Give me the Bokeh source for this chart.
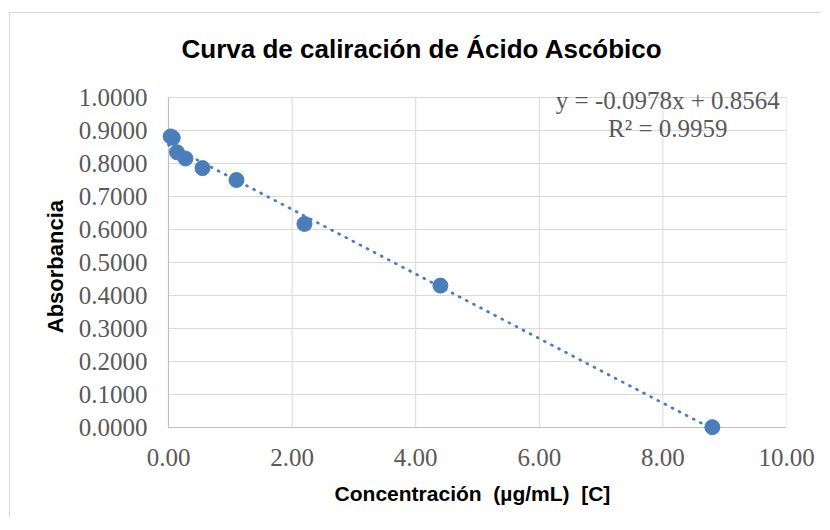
from bokeh.plotting import figure
from bokeh.models import Label, FixedTicker, NumeralTickFormatter, Range1d
from bokeh.embed import file_html
from bokeh.resources import INLINE

# ---- data ----
conc = [0.034375, 0.06875, 0.1375, 0.275, 0.55, 1.1, 2.2, 4.4, 8.8]
absorb = [0.882, 0.878, 0.834, 0.815, 0.786, 0.750, 0.617, 0.430, 0.001]
fit_slope = -0.0978
fit_intercept = 0.8564
fit_r2 = 0.9959
x_ticks = [0, 2, 4, 6, 8, 10]
y_ticks = [0.0, 0.1, 0.2, 0.3, 0.4, 0.5, 0.6, 0.7, 0.8, 0.9, 1.0]

title_txt = "Curva de caliración de Ácido Ascóbico"
xlab = "Concentración\u00a0\u00a0(µg/mL)\u00a0\u00a0[C]"
ylab = "Absorbancia" + "\u00a0" * 11   # padding re-centres the label on the axes area

BLUE = "#4a7ebb"
GRID = "#d9d9d9"
AXIS = "#bfbfbf"
TXT = "#595959"
SERIF = "Liberation Serif"
SANS = "Liberation Sans"

# frame is padded beyond the axes so markers / texts near the edges are not clipped
PAD = 10          # px left and below the axes
PAD_TOP = 69      # px above the top gridline (room for the title)
PX_X = 618 / (x_ticks[-1] - x_ticks[0])
PX_Y = 330 / (y_ticks[-1] - y_ticks[0])

p = figure(width=812, height=505, output_backend="svg", toolbar_location=None, title=None,
           x_range=Range1d(x_ticks[0] - PAD / PX_X, x_ticks[-1]),
           y_range=Range1d(y_ticks[0] - PAD / PX_Y, y_ticks[-1] + PAD_TOP / PX_Y),
           min_border_left=148, min_border_right=36, min_border_top=15, min_border_bottom=81)

# title drawn inside the padded frame area
p.add_layout(Label(x=x_ticks[0] + 13 / PX_X, y=y_ticks[-1] + 49 / PX_Y, text=title_txt,
                   text_align="left", text_baseline="middle", text_font=SANS,
                   text_font_style="bold", text_font_size="26px", text_color="#000000"))

# grid lines limited to the axes extent
p.xgrid.visible = False
p.ygrid.visible = False
n_y, n_x = len(y_ticks), len(x_ticks)
p.segment(x0=[x_ticks[0]] * n_y, x1=[x_ticks[-1]] * n_y, y0=y_ticks, y1=y_ticks,
          line_color=GRID, line_width=1, level="underlay")
p.segment(x0=x_ticks, x1=x_ticks, y0=[y_ticks[0]] * n_x, y1=[y_ticks[-1]] * n_x,
          line_color=GRID, line_width=1, level="underlay")
# axis lines
p.segment(x0=[x_ticks[0], x_ticks[0]], x1=[x_ticks[-1], x_ticks[0]],
          y0=[y_ticks[0], y_ticks[0]], y1=[y_ticks[0], y_ticks[-1]],
          line_color=AXIS, line_width=1.2, level="underlay")

# trendline from fit coefficients
tx = [x_ticks[0], max(conc)]
ty = [fit_slope * v + fit_intercept for v in tx]
p.line(tx, ty, line_color=BLUE, line_width=2.75, line_dash="1 7", line_cap="round")

p.scatter(conc, absorb, size=15, fill_color=BLUE, line_color=BLUE)

eq1 = f"y = {fit_slope:.4f}x + {fit_intercept:.4f}"
eq2 = f"R² = {fit_r2:.4f}"
for txt, yy in [(eq1, 0.992), (eq2, 0.906)]:
    p.add_layout(Label(x=8.08, y=yy, text=txt, text_align="center", text_baseline="middle",
                       text_font=SERIF, text_font_size="25px", text_color=TXT))

# axes (lines drawn above as segments)
p.xaxis.ticker = FixedTicker(ticks=x_ticks)
p.yaxis.ticker = FixedTicker(ticks=y_ticks)
p.xaxis.formatter = NumeralTickFormatter(format="0.00")
p.yaxis.formatter = NumeralTickFormatter(format="0.0000")
for ax in (p.xaxis, p.yaxis):
    ax.axis_line_color = None
    ax.major_tick_line_color = None
    ax.minor_tick_line_color = None
    ax.major_label_text_font = SERIF
    ax.major_label_text_font_size = "25px"
    ax.major_label_text_color = TXT
    ax.axis_label_text_font = SANS
    ax.axis_label_text_font_style = "bold"
    ax.axis_label_text_color = "#000000"
p.xaxis.axis_label = xlab
p.yaxis.axis_label = ylab
p.xaxis.axis_label_text_font_size = "21px"
p.yaxis.axis_label_text_font_size = "22px"
p.yaxis.major_label_standoff = 5
p.xaxis.major_label_standoff = 5
p.yaxis.axis_label_standoff = 8
p.xaxis.axis_label_standoff = 13

p.outline_line_color = None
p.background_fill_color = "white"
p.border_fill_color = "white"

p.styles = {"border-left": "1px solid #d9d9d9", "border-top": "1px solid #d9d9d9",
            "margin-left": "9px", "margin-top": "12px"}

open("out.html", "w").write(file_html(p, INLINE))
